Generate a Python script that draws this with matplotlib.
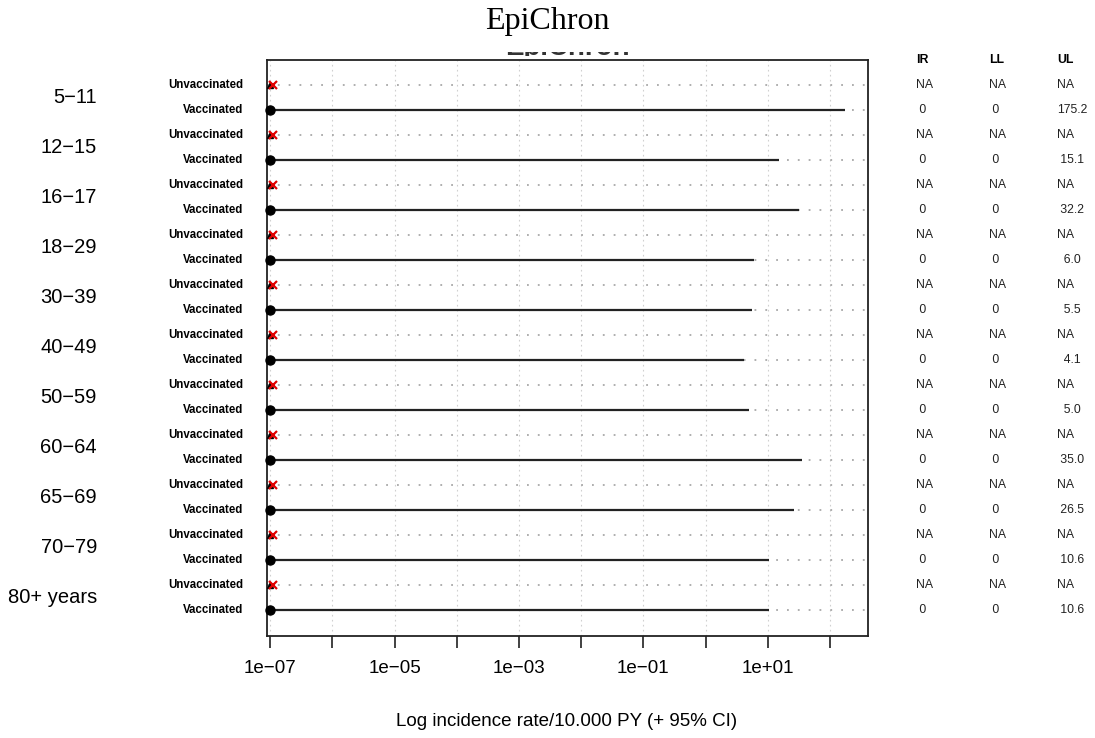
import matplotlib
matplotlib.use("Agg")
import matplotlib.pyplot as plt
import matplotlib.transforms as mtransforms

# ---- data -------------------------------------------------------------
age_groups = ["5\u221211", "12\u221215", "16\u221217", "18\u221229", "30\u221239",
              "40\u221249", "50\u221259", "60\u221264", "65\u221269", "70\u221279",
              "80+ years"]
status = ["Unvaccinated", "Vaccinated"]

# incidence rate and 95% CI per 10,000 PY (None = not available)
unvacc_ir = [None] * 11
unvacc_ll = [None] * 11
unvacc_ul = [None] * 11
vacc_ir = [0, 0, 0, 0, 0, 0, 0, 0, 0, 0, 0]
vacc_ll = [0, 0, 0, 0, 0, 0, 0, 0, 0, 0, 0]
vacc_ul = [175.2, 15.1, 32.2, 6.0, 5.5, 4.1, 5.0, 35.0, 26.5, 10.6, 10.6]

tick_values = [1e-7, 1e-5, 1e-3, 1e-1, 1e1]
tick_labels = ["1e\u221207", "1e\u221205", "1e\u221203", "1e\u221201", "1e+01"]
floor_value = 1e-7   # zero rates are drawn at the axis floor

# ---- figure -----------------------------------------------------------
W, H = 1095, 738
fig = plt.figure(figsize=(W / 100, H / 100), dpi=100)
fig.patch.set_facecolor("white")

def fx(px):
    return px / W

def fy(py):
    return 1 - py / H

ax = fig.add_axes([fx(267), fy(636), fx(868) - fx(267), fy(60) - fy(636)])
ax.set_xscale("log")
ax.set_xlim(10 ** -7.05, 10 ** 2.61)
n_rows = 2 * len(age_groups)
ax.set_ylim(n_rows + 0.04, -1)

# grid
for e in range(-7, 3):
    ax.axvline(10.0 ** e, color="#d0d0d0", lw=0.8, ls=(0, (1.5, 3)), zorder=0)
for r in range(n_rows):
    ax.axhline(r, color="#a8a8a8", lw=1.3, ls=(0, (1, 5)), zorder=0)

# marks
for i in range(len(age_groups)):
    ru, rv = 2 * i, 2 * i + 1
    # unvaccinated: no estimate, marked at the floor
    ax.plot([floor_value], [ru], marker="^", color="black", ms=4, zorder=3,
            clip_on=False)
    ax.plot([floor_value * 1.1], [ru], marker="x", color="#e00000", ms=6,
            mew=1.6, zorder=4, clip_on=False)
    # vaccinated: point estimate with CI
    lo = max(vacc_ll[i], floor_value)
    ax.plot([lo, vacc_ul[i]], [rv, rv], color="#222222", lw=1.6, zorder=2,
            solid_capstyle="butt")
    ax.plot([max(vacc_ir[i], floor_value)], [rv], marker="o", color="black",
            ms=6.5, zorder=5, clip_on=False)

# axes styling
ax.set_yticks([])
ax.minorticks_off()
ax.set_xticks([10.0 ** e for e in range(-7, 3)])
ax.set_xticklabels([tick_labels[tick_values.index(10.0 ** e)]
                    if 10.0 ** e in tick_values else "" for e in range(-7, 3)],
                   fontsize=13.5, fontfamily="Liberation Sans")
ax.tick_params(axis="x", direction="out", length=8.5, width=1.3, pad=9,
               color="#333333")
for s in ax.spines.values():
    s.set_linewidth(1.3)
    s.set_color("#222222")

# row labels
blend = mtransforms.blended_transform_factory(fig.transFigure, ax.transData)
for i, g in enumerate(age_groups):
    ax.text(fx(97), 2 * i + 0.5, g, transform=blend, ha="right", va="center",
            fontsize=14.5, fontfamily="Liberation Sans")
    for j, s in enumerate(status):
        ax.text(fx(243), 2 * i + j, s, transform=blend, ha="right",
                va="center", fontsize=8.3, fontweight="bold",
                fontfamily="Liberation Sans")

# x label
fig.text(fx(567), fy(721), "Log incidence rate/10.000 PY (+ 95% CI)",
         ha="center", va="center", fontsize=13.5, fontfamily="Liberation Sans")

# results table
def fmt(v):
    return "NA" if v is None else ("0" if v == 0 else f"{v:.1f}")

def pad(strings):
    w = max(len(s) for s in strings)
    return [s if s == "NA" else s.rjust(w) for s in strings]

col_x = {"IR": fx(916), "LL": fx(989), "UL": fx(1057)}
ir_col, ll_col, ul_col = [], [], []
for i in range(len(age_groups)):
    ir_col += [fmt(unvacc_ir[i]), fmt(vacc_ir[i])]
    ll_col += [fmt(unvacc_ll[i]), fmt(vacc_ll[i])]
    ul_col += [fmt(unvacc_ul[i]), fmt(vacc_ul[i])]
columns = {"IR": [" " + s if s == "0" else s for s in ir_col],
           "LL": [" " + s if s == "0" else s for s in ll_col],
           "UL": pad(ul_col)}
for name, vals in columns.items():
    ax.text(col_x[name], -1.0, name, transform=blend, ha="left", va="center",
            fontsize=8.8, fontweight="bold", fontfamily="Liberation Sans")
    for r, v in enumerate(vals):
        ax.text(col_x[name], r, v, transform=blend, ha="left", va="center",
                fontsize=8.8, fontfamily="Liberation Sans", color="#222222")

# plot title, mostly hidden under the page heading: only a thin strip shows
strip = fig.add_axes([fx(450), fy(55.5), fx(680) - fx(450), 4 / H])
strip.axis("off")
strip.text(fx(567), fy(55), "EpiChron", transform=fig.transFigure,
           ha="center", va="baseline", fontsize=20, fontweight="bold",
           fontfamily="Liberation Sans", color="#333333", clip_on=True)

# page heading
fig.text(0.5, fy(21), "EpiChron", ha="center", va="center", fontsize=23,
         fontfamily="Liberation Serif", zorder=3)

fig.savefig("out.png", dpi=100)
